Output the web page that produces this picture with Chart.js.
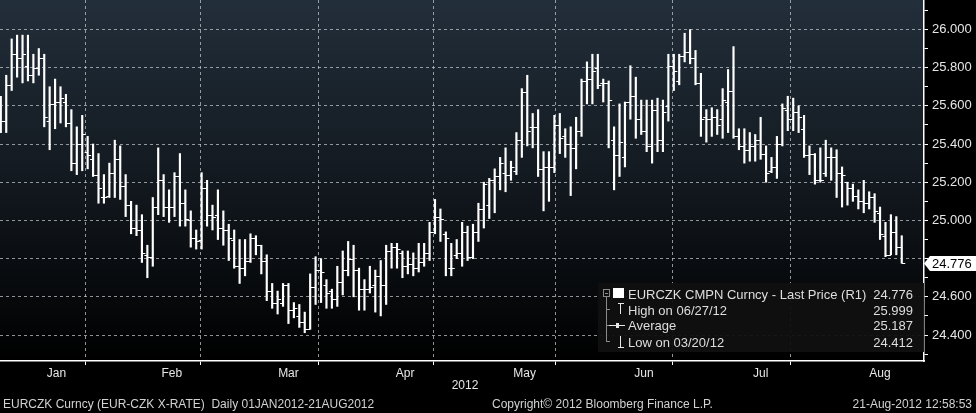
<!DOCTYPE html>
<html>
<head>
<meta charset="utf-8">
<script src="https://cdn.jsdelivr.net/npm/chart.js@4.4.1/dist/chart.umd.min.js"></script>
<style>
  html, body { margin: 0; padding: 0; background: #000; }
  #wrap { position: relative; width: 976px; height: 413px; overflow: hidden;
          font-family: "Liberation Sans", Arial, sans-serif; color: #dedede; }
  #chart { position: absolute; left: 0; top: 0; }
  .legend { position: absolute; left: 598px; top: 283px; width: 326px; height: 69px;
            background: rgba(16, 16, 16, 0.95); font-size: 13px; line-height: 15px; }
  .legend span { position: absolute; white-space: nowrap; }
  .legend .val { right: 11px; }
  .tree { position: absolute; background: #8a8a8a; }
  .ico { position: absolute; background: #e6e6e6; }
  .foot { position: absolute; top: 397px; font-size: 12px; line-height: 14px; color: #d2d2d2; white-space: pre; }
</style>
</head>
<body>
<div id="wrap">
  <canvas id="chart" width="976" height="413"></canvas>

  <div class="legend">
    <!-- collapse box and tree lines -->
    <div class="tree" style="left:5px;top:6px;width:7px;height:8px;background:none;border:1px solid #8a8a8a;box-sizing:border-box"></div>
    <div class="tree" style="left:7px;top:10px;width:3px;height:1px"></div>
    <div class="tree" style="left:8px;top:14px;width:1px;height:45px"></div>
    <div class="tree" style="left:8px;top:26px;width:4px;height:1px"></div>
    <div class="tree" style="left:8px;top:42px;width:3px;height:1px"></div>
    <div class="tree" style="left:8px;top:58px;width:4px;height:1px"></div>
    <!-- series and marker icons -->
    <div class="ico" style="left:15px;top:5px;width:11px;height:10px;background:#fff"></div>
    <div class="ico" style="left:20px;top:20px;width:6px;height:1px"></div>
    <div class="ico" style="left:22px;top:20px;width:1px;height:11px"></div>
    <div class="ico" style="left:11px;top:42px;width:16px;height:1px"></div>
    <div class="ico" style="left:18px;top:40px;width:3px;height:5px"></div>
    <div class="ico" style="left:22px;top:53px;width:1px;height:11px"></div>
    <div class="ico" style="left:20px;top:64px;width:6px;height:1px"></div>
    <!-- texts -->
    <span style="left:30px;top:4px">EURCZK CMPN Curncy - Last Price (R1)</span><span class="val" style="top:4px">24.776</span>
    <span style="left:30px;top:20px">High on 06/27/12</span><span class="val" style="top:20px">25.999</span>
    <span style="left:30px;top:35px">Average</span><span class="val" style="top:35px">25.187</span>
    <span style="left:30px;top:52px">Low on 03/20/12</span><span class="val" style="top:52px">24.412</span>
  </div>

  <div class="foot" style="left:450px;top:378px;width:30px;text-align:center;color:#e6e6e6">2012</div>
  <div class="foot" style="left:3px">EURCZK Curncy (EUR-CZK X-RATE)  Daily 01JAN2012-21AUG2012</div>
  <div class="foot" style="left:492px">Copyright© 2012 Bloomberg Finance L.P.</div>
  <div class="foot" style="right:4px">21-Aug-2012 12:58:53</div>
</div>

<script>
// daily bars, 02 Jan 2012 (index 0) .. 21 Aug 2012 (index 166), weekdays only
const opens = [
  25.54, 25.52, 25.71, 25.87, 25.85, 25.81, 25.76, 25.80, 25.85, 25.52,
  25.61, 25.62, 25.62, 25.51, 25.30, 25.40, 25.36, 25.32, 25.24, 25.12,
  25.13, 25.25, 25.32, 25.18, 25.08, 24.96, 24.95, 24.82, 24.81, 25.07,
  25.21, 25.07, 25.07, 25.23, 25.09, 25.00, 24.91, 24.90, 25.17, 25.03,
  25.03, 24.96, 24.95, 24.90, 24.76, 24.75, 24.79, 24.91, 24.87, 24.79,
  24.63, 24.57, 24.57, 24.66, 24.53, 24.50, 24.47, 24.43, 24.65, 24.74,
  24.66, 24.63, 24.59, 24.68, 24.74, 24.80, 24.74, 24.64, 24.64, 24.66,
  24.71, 24.66, 24.84, 24.86, 24.83, 24.76, 24.77, 24.75, 24.78, 24.83,
  24.94, 25.02, 24.93, 24.75, 24.82, 24.83, 24.94, 24.81, 24.94, 25.06,
  25.08, 25.21, 25.23, 25.25, 25.24, 25.26, 25.42, 25.67, 25.49, 25.49,
  25.27, 25.28, 25.28, 25.50, 25.44, 25.40, 25.38, 25.47, 25.73, 25.74,
  25.80, 25.72, 25.72, 25.42, 25.34, 25.33, 25.62, 25.65, 25.53, 25.47,
  25.39, 25.58, 25.42, 25.60, 25.81, 25.73, 25.86, 25.88, 25.85, 25.72,
  25.54, 25.53, 25.54, 25.53, 25.62, 25.68, 25.44, 25.39, 25.37, 25.39,
  25.42, 25.35, 25.26, 25.28, 25.40, 25.58, 25.53, 25.57, 25.48, 25.34,
  25.35, 25.21, 25.25, 25.33, 25.33, 25.25, 25.20, 25.17, 25.13, 25.10,
  25.09, 25.12, 25.04, 24.92, 24.82, 24.94, 24.86
];
const highs = [
  25.65, 25.76, 25.95, 25.97, 25.97, 25.97, 25.87, 25.90, 25.87, 25.70,
  25.74, 25.70, 25.66, 25.58, 25.49, 25.55, 25.44, 25.40, 25.35, 25.24,
  25.30, 25.42, 25.39, 25.24, 25.10, 25.08, 25.03, 24.87, 25.12, 25.38,
  25.24, 25.16, 25.25, 25.35, 25.16, 25.05, 24.95, 25.25, 25.21, 25.08,
  25.16, 25.05, 24.98, 24.95, 24.90, 24.90, 24.93, 24.92, 24.87, 24.82,
  24.67, 24.63, 24.67, 24.67, 24.57, 24.56, 24.52, 24.72, 24.81, 24.80,
  24.69, 24.64, 24.76, 24.84, 24.89, 24.87, 24.75, 24.69, 24.76, 24.74,
  24.79, 24.87, 24.88, 24.88, 24.84, 24.84, 24.83, 24.88, 24.88, 24.99,
  25.11, 25.06, 24.94, 24.88, 24.90, 24.99, 24.97, 24.98, 25.09, 25.20,
  25.22, 25.27, 25.33, 25.38, 25.31, 25.46, 25.69, 25.76, 25.56, 25.58,
  25.36, 25.36, 25.55, 25.56, 25.48, 25.49, 25.54, 25.74, 25.83, 25.87,
  25.87, 25.74, 25.73, 25.49, 25.61, 25.62, 25.81, 25.75, 25.63, 25.63,
  25.63, 25.64, 25.63, 25.87, 25.87, 25.87, 25.98, 25.999, 25.89, 25.77,
  25.58, 25.59, 25.58, 25.69, 25.79, 25.91, 25.48, 25.48, 25.46, 25.45,
  25.54, 25.39, 25.33, 25.44, 25.61, 25.65, 25.64, 25.60, 25.55, 25.39,
  25.35, 25.38, 25.42, 25.38, 25.37, 25.28, 25.20, 25.19, 25.16, 25.21,
  25.15, 25.14, 25.07, 24.99, 25.03, 25.02, 24.92
];
const lows = [
  25.46, 25.46, 25.68, 25.75, 25.72, 25.73, 25.72, 25.76, 25.49, 25.37,
  25.48, 25.51, 25.49, 25.26, 25.24, 25.26, 25.27, 25.23, 25.09, 25.09,
  25.12, 25.12, 25.11, 25.02, 24.93, 24.92, 24.78, 24.70, 24.76, 25.03,
  25.02, 24.99, 25.02, 24.97, 24.97, 24.86, 24.85, 24.85, 24.97, 24.95,
  24.90, 24.87, 24.79, 24.75, 24.67, 24.71, 24.78, 24.82, 24.72, 24.58,
  24.54, 24.51, 24.55, 24.46, 24.49, 24.44, 24.412, 24.43, 24.56, 24.57,
  24.54, 24.54, 24.55, 24.61, 24.71, 24.60, 24.53, 24.53, 24.62, 24.52,
  24.50, 24.56, 24.75, 24.75, 24.70, 24.72, 24.71, 24.73, 24.76, 24.79,
  24.93, 24.89, 24.71, 24.71, 24.80, 24.76, 24.79, 24.80, 24.89, 24.96,
  25.01, 25.04, 25.16, 25.15, 25.21, 25.24, 25.33, 25.39, 25.38, 25.23,
  25.05, 25.10, 25.25, 25.35, 25.33, 25.13, 25.27, 25.44, 25.61, 25.61,
  25.69, 25.62, 25.38, 25.16, 25.23, 25.28, 25.53, 25.43, 25.45, 25.36,
  25.30, 25.36, 25.36, 25.52, 25.68, 25.71, 25.83, 25.82, 25.71, 25.44,
  25.41, 25.44, 25.45, 25.43, 25.46, 25.43, 25.37, 25.30, 25.31, 25.31,
  25.32, 25.20, 25.25, 25.22, 25.39, 25.47, 25.47, 25.46, 25.33, 25.24,
  25.19, 25.20, 25.23, 25.21, 25.12, 25.07, 25.08, 25.10, 25.06, 25.04,
  25.06, 24.99, 24.90, 24.81, 24.82, 24.82, 24.776
];
const closes = [
  25.52, 25.71, 25.87, 25.85, 25.87, 25.76, 25.80, 25.85, 25.54, 25.61,
  25.62, 25.64, 25.51, 25.30, 25.40, 25.45, 25.34, 25.24, 25.17, 25.12,
  25.25, 25.32, 25.18, 25.08, 24.96, 24.95, 24.83, 24.81, 25.07, 25.21,
  25.07, 25.07, 25.23, 25.09, 25.01, 24.91, 24.89, 25.17, 25.03, 25.02,
  24.96, 24.95, 24.91, 24.76, 24.75, 24.79, 24.91, 24.87, 24.79, 24.63,
  24.57, 24.59, 24.66, 24.53, 24.54, 24.47, 24.43, 24.65, 24.74, 24.73,
  24.62, 24.59, 24.68, 24.74, 24.80, 24.74, 24.64, 24.64, 24.65, 24.71,
  24.66, 24.84, 24.86, 24.85, 24.76, 24.77, 24.75, 24.78, 24.83, 24.94,
  25.02, 25.01, 24.91, 24.75, 24.83, 24.94, 24.81, 24.94, 25.06, 25.19,
  25.21, 25.23, 25.30, 25.24, 25.28, 25.42, 25.67, 25.47, 25.49, 25.27,
  25.28, 25.28, 25.50, 25.43, 25.40, 25.38, 25.47, 25.73, 25.74, 25.78,
  25.71, 25.72, 25.63, 25.34, 25.41, 25.62, 25.65, 25.53, 25.47, 25.39,
  25.58, 25.42, 25.57, 25.81, 25.78, 25.86, 25.88, 25.85, 25.72, 25.53,
  25.53, 25.54, 25.50, 25.63, 25.68, 25.44, 25.39, 25.37, 25.39, 25.42,
  25.35, 25.25, 25.28, 25.40, 25.59, 25.53, 25.57, 25.54, 25.34, 25.35,
  25.21, 25.21, 25.33, 25.33, 25.25, 25.24, 25.17, 25.13, 25.10, 25.09,
  25.12, 25.05, 24.93, 24.82, 24.94, 24.86, 24.776
];

// month axis: label names and index of the last trading day in each month
const monthNames = ['Jan', 'Feb', 'Mar', 'Apr', 'May', 'Jun', 'Jul', 'Aug'];
const monthEnds = [21, 42, 64, 85, 108, 129, 151];

const GRID = 'rgba(190, 195, 200, 0.75)';
const TEXT = '#e6e6e6';
const LAST = closes[closes.length - 1];

Chart.defaults.font.family = '"Liberation Sans", Arial, sans-serif';

// month labels sit halfway between month boundaries
const bounds = [-0.5, ...monthEnds, 173];
const monthMids = monthNames.map((m, i) => (bounds[i] + bounds[i + 1]) / 2);
const xTicks = [...monthEnds, ...monthMids].sort((a, b) => a - b);
const isEnd = v => monthEnds.includes(v);
const isMajor = v => Math.round(v * 10) % 2 === 0;

const background = {
  id: 'background',
  beforeDraw(chart) {
    const { ctx, chartArea: a } = chart;
    ctx.save();
    ctx.fillStyle = '#000';
    ctx.fillRect(0, 0, chart.width, chart.height);
    const g = ctx.createLinearGradient(0, a.top, 0, a.bottom);
    g.addColorStop(0, '#222e3a');
    g.addColorStop(0.45, '#141b22');
    g.addColorStop(1, '#000000');
    ctx.fillStyle = g;
    ctx.fillRect(a.left, a.top, a.right - a.left, a.bottom - a.top);
    ctx.restore();
  }
};

// open tick on the left, close tick on the right of each high-low bar
const openClose = {
  id: 'openClose',
  afterDatasetsDraw(chart) {
    const { ctx, scales: { x, y } } = chart;
    ctx.save();
    ctx.strokeStyle = '#fff';
    ctx.lineWidth = 1.2;
    ctx.beginPath();
    opens.forEach((o, i) => {
      const px = x.getPixelForValue(i);
      const yo = Math.round(y.getPixelForValue(o)) + 0.5;
      const yc = Math.round(y.getPixelForValue(closes[i])) + 0.5;
      ctx.moveTo(px - 3, yo);
      ctx.lineTo(px, yo);
      ctx.moveTo(px, yc);
      ctx.lineTo(px + 3.5, yc);
    });
    ctx.stroke();
    ctx.restore();
  }
};

// last price marker on the right axis
const lastTag = {
  id: 'lastTag',
  afterDraw(chart) {
    const { ctx, chartArea: a, scales: { y } } = chart;
    const py = Math.round(y.getPixelForValue(LAST)) + 0.5;
    const l = a.right;
    ctx.save();
    ctx.fillStyle = '#fff';
    ctx.beginPath();
    ctx.moveTo(l, py);
    ctx.lineTo(l + 6, py - 7.5);
    ctx.lineTo(chart.width, py - 7.5);
    ctx.lineTo(chart.width, py + 7.5);
    ctx.lineTo(l + 6, py + 7.5);
    ctx.closePath();
    ctx.fill();
    ctx.fillStyle = '#000';
    ctx.font = '13px "Liberation Sans", Arial, sans-serif';
    ctx.textBaseline = 'middle';
    ctx.fillText(LAST.toFixed(3), l + 8, py + 1);
    ctx.restore();
  }
};

new Chart(document.getElementById('chart'), {
  type: 'bar',
  data: {
    datasets: [{
      data: highs.map((h, i) => ({ x: i, y: [lows[i], h] })),
      backgroundColor: '#ffffff',
      barThickness: 1.5,
      grouped: false
    }]
  },
  options: {
    responsive: false,
    animation: false,
    devicePixelRatio: 1,
    layout: { padding: 0 },
    plugins: {
      legend: { display: false },
      tooltip: { enabled: false }
    },
    scales: {
      x: {
        type: 'linear',
        min: -0.15,
        max: 170.1,
        offset: false,
        afterBuildTicks: s => { s.ticks = xTicks.map(v => ({ value: v })) },
        afterFit: s => { s.height = 52; s.paddingLeft = 0; s.paddingRight = 0 },
        grid: {
          color: c => c.tick && isEnd(c.tick.value) ? GRID : 'transparent',
          tickColor: c => c.tick && isEnd(c.tick.value) ? '#fff' : 'transparent',
          tickLength: 4
        },
        border: { color: '#fff', width: 1.5, dash: [3, 3] },
        ticks: {
          autoSkip: false,
          maxRotation: 0,
          padding: 1,
          color: TEXT,
          font: { size: 12 },
          callback: v => {
            const k = monthMids.indexOf(v);
            return k >= 0 ? monthNames[k] : '';
          }
        }
      },
      y: {
        position: 'right',
        min: 24.264,
        max: 26.154,
        afterFit: s => { s.width = 52; s.paddingTop = 0; s.paddingBottom = 0 },
        grid: {
          color: c => c.tick && isMajor(c.tick.value) ? GRID : 'transparent',
          tickColor: '#fff',
          tickLength: 4
        },
        border: { color: '#fff', width: 1.5, dash: [3, 3] },
        ticks: {
          stepSize: 0.1,
          includeBounds: false,
          padding: 4,
          color: TEXT,
          font: { size: 13 },
          // labels every 0.2, hidden where the last-price tag sits
          callback: v => isMajor(v) && Math.abs(v - LAST) > 0.06 ? v.toFixed(3) : ''
        }
      }
    }
  },
  plugins: [background, openClose, lastTag]
});
</script>
</body>
</html>
